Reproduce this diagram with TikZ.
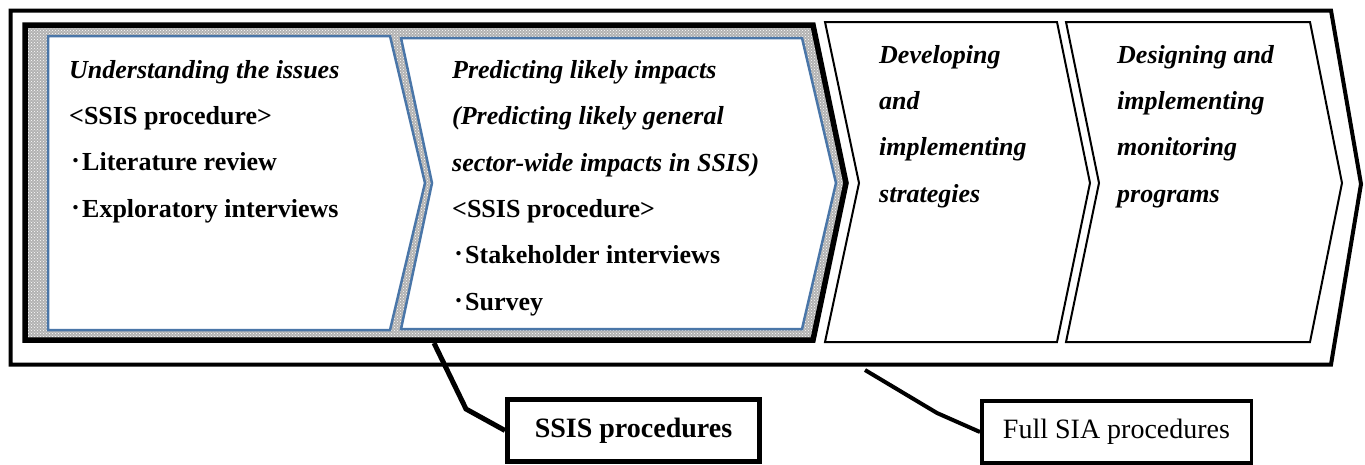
\documentclass[tikz,border=0pt]{standalone}
\usepackage{fontspec}
\setmainfont{Liberation Serif}
\newfontfamily\cjk{Noto Sans CJK JP}
\usetikzlibrary{patterns}
\definecolor{boxblue}{RGB}{74,118,168}
\newcommand\mydot{{\cjk ･}}
\tikzset{
  outerarrow/.style={draw=black, line width=4pt, fill=white, line join=miter},
  ssisarrow/.style={draw=black, line width=5.5pt, line join=miter},
  bluebox/.style={draw=boxblue, line width=2.5pt, fill=white, line join=miter},
  plainbox/.style={draw=black, line width=2pt, fill=white, line join=miter},
  bodytext/.style={font=\fontsize{26}{46.3}\selectfont, align=left, anchor=base west, inner sep=0pt},
  calloutline/.style={draw=black, line join=miter},
  calloutbox/.style={draw=black, fill=white, inner sep=0pt}
}
\begin{document}
\begin{tikzpicture}[x=1pt,y=-1pt]
\useasboundingbox (0,0) rectangle (1365,464);
% outer Full SIA arrow
\path[outerarrow] (10.5,10.5) -- (1331,10.5) -- (1361,184) -- (1331,364.5) -- (10.5,364.5) -- cycle;
% SSIS thick arrow with pattern
\fill[gray!60] (25,25) -- (813,25) -- (846,183) -- (813,340) -- (25,340) -- cycle;
\fill[pattern=crosshatch dots, pattern color=white] (25,25) -- (813,25) -- (846,183) -- (813,340) -- (25,340) -- cycle;
\path[ssisarrow] (25,25) -- (813,25) -- (846,183) -- (813,340) -- (25,340) -- cycle;
% box 1
\path[bluebox] (48,36) -- (390,36) -- (425,183) -- (390,330) -- (48,330) -- cycle;
% box 2
\path[bluebox] (401,38) -- (802,38) -- (836,183) -- (802,329) -- (401,329) -- (432,183) -- cycle;
% box 3
\path[plainbox] (825,22) -- (1057,22) -- (1090,183) -- (1057,342) -- (825,342) -- (859,183) -- cycle;
% box 4
\path[plainbox] (1066,22) -- (1310,22) -- (1342,183) -- (1310,342) -- (1066,342) -- (1099,183) -- cycle;

% texts (anchor = baseline of last line)
\node[bodytext] (t1) at (69,217) {\textbf{\textit{Understanding the issues}}\\
\textbf{<SSIS procedure>}\\
\mydot\textbf{Literature review}\\
\mydot\textbf{Exploratory interviews}};
\node[bodytext] (t2) at (452,310) {\textbf{\textit{Predicting likely impacts}}\\
\textbf{\textit{(Predicting likely general}}\\
\textbf{\textit{sector-wide impacts in SSIS)}}\\
\textbf{<SSIS procedure>}\\
\mydot\textbf{Stakeholder interviews}\\
\mydot\textbf{Survey}};
\node[bodytext] (t3) at (879,202) {\textbf{\textit{Developing}}\\
\textbf{\textit{and}}\\
\textbf{\textit{implementing}}\\
\textbf{\textit{strategies}}};
\node[bodytext] (t4) at (1117,202) {\textbf{\textit{Designing and}}\\
\textbf{\textit{implementing}}\\
\textbf{\textit{monitoring}}\\
\textbf{\textit{programs}}};

% callouts
\node[calloutbox, line width=5pt, minimum width=252pt, minimum height=62pt,
  font=\fontsize{28}{30}\selectfont\bfseries] (ssis) at (633.5,430.5) {SSIS procedures};
\node[calloutbox, line width=3.5pt, minimum width=269.5pt, minimum height=62pt,
  font=\fontsize{28}{30}\selectfont] (full) at (1116.5,432) {Full SIA procedures};
\coordinate (s0) at (434,343);
\coordinate (s1) at (466,409);
\coordinate (f0) at (865,370);
\coordinate (f1) at (937,413);
\draw[calloutline, line width=5pt] (s0) -- (s1) -- (ssis.west);
\draw[calloutline, line width=4pt] (f0) -- (f1) -- (full.west);
\end{tikzpicture}
\end{document}
